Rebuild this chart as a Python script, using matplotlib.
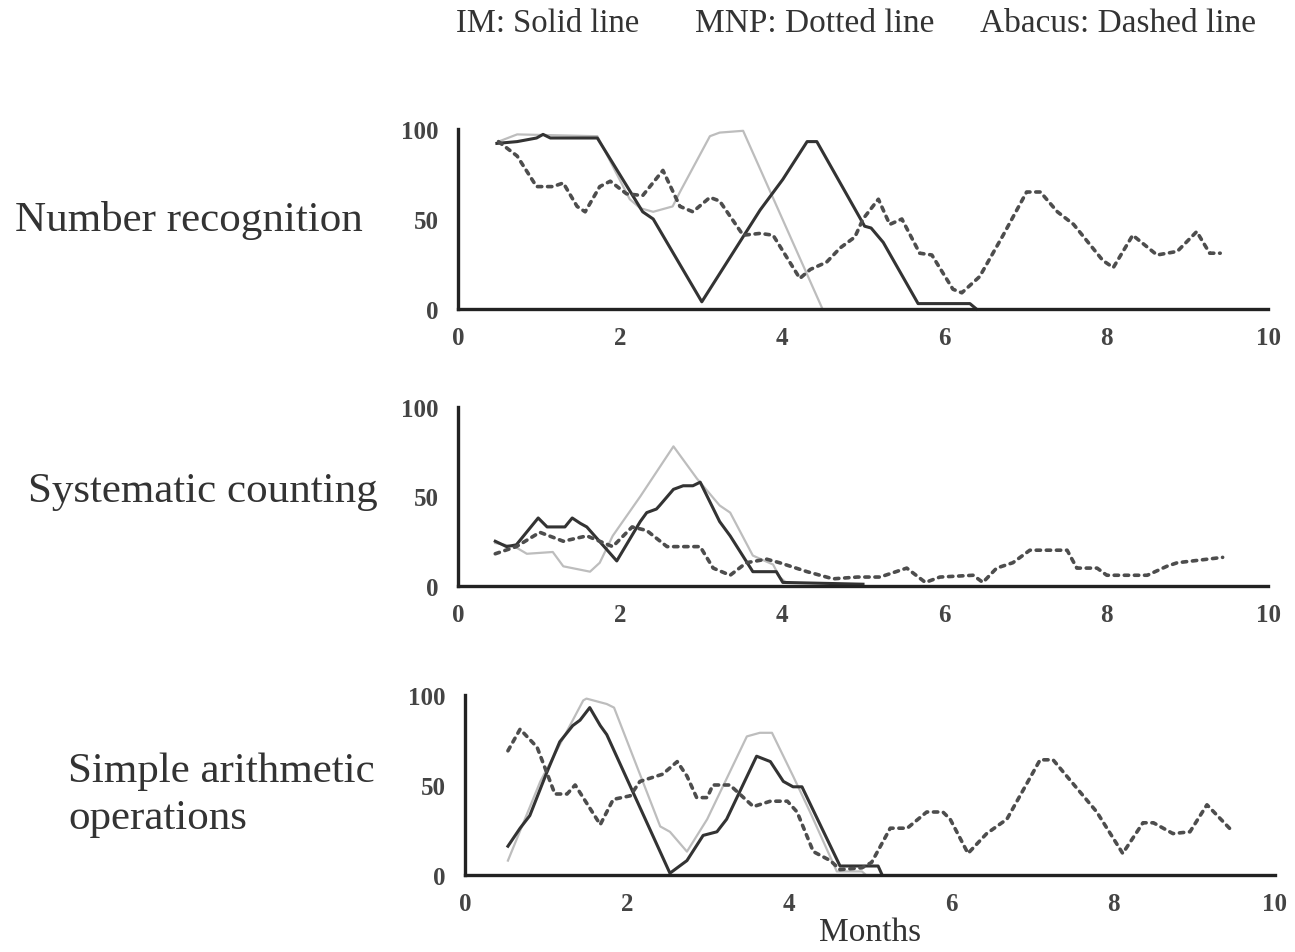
import matplotlib.pyplot as plt

# Number recognition
nr_im_x = [0.48, 0.73, 0.97, 1.05, 1.14, 1.72, 2.28, 2.41, 3.01, 3.73, 4.01, 4.31, 4.43, 5.02, 5.1, 5.25, 5.68, 6.32, 6.4]
nr_im_y = [92, 93, 95, 97, 95, 95, 54, 50, 4, 55, 72, 93, 93, 46, 45, 37, 3, 3, 0]
nr_mnp_x = [0.5, 0.73, 1.72, 2.12, 2.25, 2.41, 2.65, 2.74, 3.11, 3.23, 3.52, 4.5]
nr_mnp_y = [93, 97, 96, 61, 56, 54, 57, 65, 96, 98, 99, 0]
nr_ab_x = [0.5, 0.73, 0.97, 1.17, 1.3, 1.47, 1.57, 1.75, 1.88, 2.08, 2.28, 2.53, 2.74, 2.9, 3.11, 3.23,
           3.52, 3.73, 3.89, 4.22, 4.35, 4.55, 4.72, 4.9, 5.0, 5.19, 5.33, 5.48, 5.7, 5.85, 6.11, 6.22,
           6.44, 6.73, 7.02, 7.19, 7.4, 7.6, 7.96, 8.09, 8.33, 8.63, 8.88, 9.12, 9.28, 9.41]
nr_ab_y = [93, 85, 68, 68, 70, 57, 54, 68, 71, 64, 63, 77, 57, 54, 62, 60,
           41, 42, 41, 17, 22, 26, 34, 40, 50, 61, 47, 50, 31, 30, 11, 9,
           18, 41, 65, 65, 54, 47, 27, 23, 41, 30, 32, 43, 31, 31]

# Systematic counting
sc_im_x = [0.46, 0.6, 0.72, 0.99, 1.1, 1.32, 1.41, 1.51, 1.59, 1.96, 2.25, 2.33, 2.45, 2.49, 2.66, 2.78,
           2.9, 2.99, 3.23, 3.36, 3.64, 3.93, 4.01, 5.0]
sc_im_y = [25, 22, 23, 38, 33, 33, 38, 35, 33, 14, 36, 41, 43, 45, 54, 56,
           56, 58, 36, 28, 8, 8, 2, 1]
sc_mnp_x = [0.46, 0.7, 0.85, 1.17, 1.3, 1.63, 1.75, 1.91, 2.25, 2.66, 2.95, 3.23, 3.36, 3.64, 3.89, 3.97, 4.05]
sc_mnp_y = [24, 22, 18, 19, 11, 8, 13, 28, 50, 78, 60, 45, 41, 17, 12, 5, 2]
sc_ab_x = [0.46, 0.72, 1.01, 1.3, 1.59, 1.91, 2.15, 2.33, 2.58, 2.99, 3.15, 3.36, 3.56, 3.81, 3.97, 4.31,
           4.63, 4.93, 5.21, 5.54, 5.77, 5.95, 6.36, 6.48, 6.65, 6.85, 7.06, 7.52, 7.64, 7.89, 8.01, 8.51,
           8.75, 8.88, 9.07, 9.44]
sc_ab_y = [18, 22, 30, 25, 28, 22, 33, 31, 22, 22, 10, 6, 13, 15, 13, 8,
           4, 5, 5, 10, 2, 5, 6, 2, 10, 13, 20, 20, 10, 10, 6, 6,
           11, 13, 14, 16]

# Simple arithmetic operations
sa_im_x = [0.53, 0.68, 0.8, 1.01, 1.17, 1.33, 1.42, 1.54, 1.67, 1.75, 2.53, 2.74, 2.94, 3.11, 3.23, 3.6,
           3.77, 3.93, 4.05, 4.16, 4.63, 5.1, 5.15]
sa_im_y = [16, 26, 33, 57, 74, 83, 86, 93, 83, 78, 1, 8, 22, 24, 31, 66,
           63, 52, 49, 49, 5, 5, 0]
sa_mnp_x = [0.53, 0.93, 1.46, 1.5, 1.75, 1.84, 2.41, 2.53, 2.74, 2.99, 3.48, 3.64, 3.79, 4.05, 4.26, 4.59, 4.9, 4.95]
sa_mnp_y = [8, 52, 97, 98, 95, 93, 27, 24, 13, 31, 77, 79, 79, 55, 35, 2, 2, 0]
sa_ab_x = [0.53, 0.68, 0.89, 1.11, 1.26, 1.36, 1.67, 1.83, 2.04, 2.16, 2.44, 2.62, 2.74, 2.86, 2.99, 3.06,
           3.27, 3.56, 3.77, 3.98, 4.1, 4.3, 4.51, 4.63, 4.9, 5.02, 5.25, 5.46, 5.7, 5.9, 5.99, 6.21,
           6.44, 6.69, 7.1, 7.26, 7.8, 8.12, 8.37, 8.5, 8.74, 8.95, 9.16, 9.48]
sa_ab_y = [69, 81, 71, 45, 45, 50, 28, 42, 44, 52, 56, 63, 55, 43, 43, 50,
           50, 38, 41, 41, 35, 13, 8, 3, 4, 7, 26, 26, 35, 35, 31, 12,
           23, 31, 64, 64, 35, 12, 29, 29, 23, 24, 39, 24]

panels = [
    ('Number recognition', nr_im_x, nr_im_y, nr_mnp_x, nr_mnp_y, nr_ab_x, nr_ab_y),
    ('Systematic counting', sc_im_x, sc_im_y, sc_mnp_x, sc_mnp_y, sc_ab_x, sc_ab_y),
    ('Simple arithmetic\noperations', sa_im_x, sa_im_y, sa_mnp_x, sa_mnp_y, sa_ab_x, sa_ab_y),
]

# axes rectangles in figure fractions (left, bottom, width, height)
W, H = 1295, 953
boxes = [
    (458 / W, 1 - 310 / H, 810 / W, 180 / H),
    (458 / W, 1 - 587 / H, 810 / W, 179 / H),
    (465 / W, 1 - 876 / H, 810 / W, 180 / H),
]
# row label anchor points (pixels)
label_pos = [(15, 220), (28, 492), (68, 795)]

serif = 'Liberation Serif'
text_col = '#333333'

fig = plt.figure(figsize=(12.95, 9.53), dpi=100)

for (name, im_x, im_y, mnp_x, mnp_y, ab_x, ab_y), box, (lx, ly) in zip(panels, boxes, label_pos):
    ax = fig.add_axes(box)
    ax.plot(mnp_x, mnp_y, color='#bdbdbd', linewidth=1.6, clip_on=False)
    ax.plot(im_x, im_y, color='#333333', linewidth=2.2, clip_on=False)
    ax.plot(ab_x, ab_y, color='#4d4d4d', linewidth=2.6, linestyle=(0, (1.2, 1.6)),
            dash_capstyle='round', clip_on=False)
    ax.set_xlim(0, 10)
    ax.set_ylim(0, 100)
    ax.set_xticks([0, 2, 4, 6, 8, 10])
    ax.set_yticks([0, 50, 100])
    for side in ['top', 'right']:
        ax.spines[side].set_visible(False)
    for side in ['left', 'bottom']:
        ax.spines[side].set_linewidth(2.4)
        ax.spines[side].set_color('#222222')
    ax.tick_params(length=0, labelsize=18, labelcolor='#444444')
    ax.tick_params(axis='x', pad=12)
    ax.tick_params(axis='y', pad=14)
    for lab in ax.get_xticklabels() + ax.get_yticklabels():
        lab.set_family(serif)
        lab.set_fontweight('bold')
    fig.text(lx / W, 1 - ly / H, name, family=serif, fontsize=31, color=text_col,
             ha='left', va='center', linespacing=1.3)

ax.set_xlabel('Months', family=serif, fontsize=24, color=text_col, labelpad=1)

# legend line at top
fig.text(456 / W, 1 - 24 / H, 'IM: Solid line', family=serif, fontsize=23.5, color=text_col, va='center')
fig.text(695 / W, 1 - 24 / H, 'MNP: Dotted line', family=serif, fontsize=24, color=text_col, va='center')
fig.text(980 / W, 1 - 24 / H, 'Abacus: Dashed line', family=serif, fontsize=24, color=text_col, va='center')

plt.savefig('out.png', dpi=100)
